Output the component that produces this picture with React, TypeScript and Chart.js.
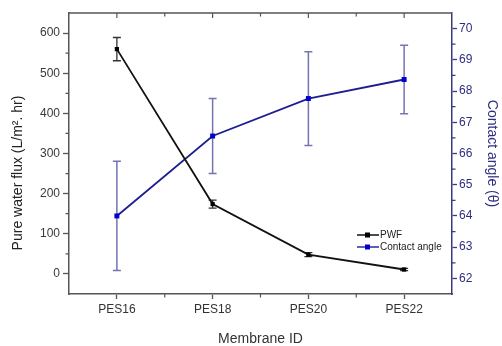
import React, { useEffect, useRef } from 'react';
import { Chart, registerables } from 'chart.js';

Chart.register(...registerables);

const categories = ['PES16', 'PES18', 'PES20', 'PES22'];
const pwf = [560, 174, 48, 11];
const pwfErr = [29, 10, 5, 3];
const contactAngle = [64.0, 66.56, 67.76, 68.37];
const contactAngleErr = [1.75, 1.2, 1.5, 1.1];
const leftTicks = [0, 100, 200, 300, 400, 500, 600];
const leftMinor = [50, 150, 250, 350, 450, 550];
const rightTicks = [62, 63, 64, 65, 66, 67, 68, 69, 70];
const rightMinor = [62.5, 63.5, 64.5, 65.5, 66.5, 67.5, 68.5, 69.5];
const seriesNames = ['PWF', 'Contact angle'];
const leftTitle = 'Pure water flux (L/m². hr)';

const FONT = 'Arial, "Liberation Sans", sans-serif';
const AXIS_GRAY = '#555555';
const NAVY = '#3a3a7e';

const errorBarPlugin = {
  id: 'errorBars',
  beforeDatasetsDraw(chart: any) {
    const ctx = chart.ctx;
    const sets = [
      { idx: 0, vals: pwf, errs: pwfErr, axis: 'y', color: '#333333', w: 1.3 },
      { idx: 1, vals: contactAngle, errs: contactAngleErr, axis: 'y1', color: '#7474b4', w: 1.5 },
    ];
    ctx.save();
    for (const s of sets) {
      const meta = chart.getDatasetMeta(s.idx);
      const scale = chart.scales[s.axis];
      ctx.strokeStyle = s.color;
      ctx.lineWidth = s.w;
      s.vals.forEach((v: number, i: number) => {
        const x = meta.data[i].x;
        const yTop = scale.getPixelForValue(v + s.errs[i]);
        const yBot = scale.getPixelForValue(v - s.errs[i]);
        ctx.beginPath();
        ctx.moveTo(x, yTop);
        ctx.lineTo(x, yBot);
        ctx.moveTo(x - 4, yTop);
        ctx.lineTo(x + 4, yTop);
        ctx.moveTo(x - 4, yBot);
        ctx.lineTo(x + 4, yBot);
        ctx.stroke();
      });
    }
    ctx.restore();
  },
};

const framePlugin = {
  id: 'frame',
  afterDraw(chart: any) {
    const ctx = chart.ctx;
    const { left, right, top, bottom } = chart.chartArea;
    const xs = chart.scales.x;
    const yl = chart.scales.y;
    const yr = chart.scales.y1;
    ctx.save();
    // top border
    ctx.strokeStyle = AXIS_GRAY;
    ctx.lineWidth = 1.5;
    ctx.beginPath();
    ctx.moveTo(left, top);
    ctx.lineTo(right, top);
    ctx.stroke();
    // left minor ticks
    ctx.lineWidth = 1.2;
    ctx.beginPath();
    leftMinor.forEach((v) => {
      const y = yl.getPixelForValue(v);
      ctx.moveTo(left, y);
      ctx.lineTo(left - 3.5, y);
    });
    // x minor ticks (bottom & top) and top major ticks
    for (let i = 0; i < categories.length; i++) {
      const x = xs.getPixelForValue(i);
      ctx.moveTo(x, top);
      ctx.lineTo(x, top + 5);
      if (i < categories.length - 1) {
        const xm = (x + xs.getPixelForValue(i + 1)) / 2;
        ctx.moveTo(xm, bottom);
        ctx.lineTo(xm, bottom + 3.5);
        ctx.moveTo(xm, top);
        ctx.lineTo(xm, top + 3.5);
      }
    }
    ctx.stroke();
    // right minor ticks
    ctx.strokeStyle = NAVY;
    ctx.beginPath();
    rightMinor.forEach((v) => {
      const y = yr.getPixelForValue(v);
      ctx.moveTo(right, y);
      ctx.lineTo(right + 3.5, y);
    });
    ctx.stroke();

    // left axis title
    ctx.save();
    ctx.translate(18, 173);
    ctx.rotate(-Math.PI / 2);
    ctx.font = `14px ${FONT}`;
    ctx.fillStyle = '#222222';
    ctx.textAlign = 'center';
    ctx.textBaseline = 'middle';
    ctx.fillText(leftTitle, 0, 0);
    ctx.restore();

    // legend
    const items = [
      { name: seriesNames[0], line: '#111111', fill: '#000000', y: 235 },
      { name: seriesNames[1], line: '#2a2aa0', fill: '#0000cc', y: 247 },
    ];
    ctx.font = `10px ${FONT}`;
    ctx.textBaseline = 'middle';
    ctx.textAlign = 'left';
    items.forEach((it) => {
      ctx.strokeStyle = it.line;
      ctx.lineWidth = 1.5;
      ctx.beginPath();
      ctx.moveTo(357, it.y);
      ctx.lineTo(379, it.y);
      ctx.stroke();
      ctx.fillStyle = it.fill;
      ctx.fillRect(365, it.y - 2.5, 5, 5);
      ctx.fillStyle = '#222222';
      ctx.fillText(it.name, 380, it.y + 0.5);
    });
    ctx.restore();
  },
};

export default function App() {
  const canvasRef = useRef<HTMLCanvasElement | null>(null);

  useEffect(() => {
    const canvas = canvasRef.current;
    if (!canvas) return;
    const chart = new Chart(canvas, {
      type: 'line',
      data: {
        labels: categories,
        datasets: [
          {
            label: seriesNames[0],
            data: pwf,
            yAxisID: 'y',
            borderColor: '#111111',
            backgroundColor: '#000000',
            borderWidth: 1.8,
            pointStyle: 'rect',
            pointRadius: 3,
            pointBorderWidth: 0,
            tension: 0,
          },
          {
            label: seriesNames[1],
            data: contactAngle,
            yAxisID: 'y1',
            borderColor: '#1e1e92',
            backgroundColor: '#0000cc',
            borderWidth: 1.8,
            pointStyle: 'rect',
            pointRadius: 3.5,
            pointBorderWidth: 0,
            tension: 0,
          },
        ],
      },
      options: {
        animation: false,
        responsive: false,
        devicePixelRatio: 1,
        layout: { padding: { top: 13, left: 0, right: 0, bottom: 0 } },
        plugins: { legend: { display: false }, tooltip: { enabled: false } },
        scales: {
          x: {
            type: 'category',
            offset: true,
            grid: {
              display: true,
              drawOnChartArea: false,
              drawTicks: true,
              tickLength: 5,
              tickColor: AXIS_GRAY,
              tickWidth: 1.3,
              offset: false,
            },
            border: { display: true, color: AXIS_GRAY, width: 1.5 },
            ticks: { color: '#333333', font: { family: FONT, size: 12 }, padding: 3, maxRotation: 0 },
            title: {
              display: true,
              text: 'Membrane ID',
              color: '#333333',
              font: { family: FONT, size: 14 },
              padding: { top: 0, bottom: -2 },
            },
            afterFit: (s: any) => { s.height = 52; },
          },
          y: {
            type: 'linear',
            position: 'left',
            min: -50,
            max: 650,
            afterBuildTicks: (s: any) => { s.ticks = leftTicks.map((v) => ({ value: v })); },
            grid: {
              drawOnChartArea: false,
              drawTicks: true,
              tickLength: 6,
              tickColor: AXIS_GRAY,
              tickWidth: 1.3,
            },
            border: { display: true, color: AXIS_GRAY, width: 1.5 },
            ticks: { color: '#3a3a3a', font: { family: FONT, size: 12 }, padding: 3 },
            title: { display: false },
            afterFit: (s: any) => { s.width = 69; },
          },
          y1: {
            type: 'linear',
            position: 'right',
            min: 61.5,
            max: 70.5,
            afterBuildTicks: (s: any) => { s.ticks = rightTicks.map((v) => ({ value: v })); },
            grid: {
              drawOnChartArea: false,
              drawTicks: true,
              tickLength: 5,
              tickColor: NAVY,
              tickWidth: 1.3,
            },
            border: { display: true, color: NAVY, width: 1.5 },
            ticks: { color: '#2e2e80', font: { family: FONT, size: 12 }, padding: 2 },
            title: {
              display: true,
              text: 'Contact angle (θ)',
              color: '#2e2e80',
              font: { family: FONT, size: 14 },
              padding: { top: 2, bottom: 0 },
            },
            afterFit: (s: any) => { s.width = 50; },
          },
        },
      },
      plugins: [errorBarPlugin, framePlugin],
    });
    return () => chart.destroy();
  }, []);

  return (
    <div style={{ position: 'fixed', left: 0, top: 0, width: 502, height: 346, background: '#ffffff' }}>
      <canvas ref={canvasRef} width={502} height={346} style={{ width: 502, height: 346, display: 'block' }} />
    </div>
  );
}
